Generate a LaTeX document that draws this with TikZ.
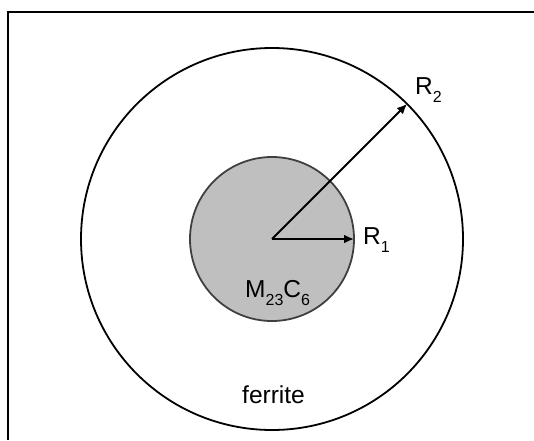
\documentclass[tikz,border=0pt]{standalone}
\usepackage{fontspec}
\setmainfont{Liberation Sans}
\usetikzlibrary{arrows.meta}

\newcommand{\sub}[1]{\raisebox{-8pt}{\fontsize{16}{16}\selectfont #1}}

\tikzset{
  shell/.style={circle,draw,line width=1.8pt,inner sep=0pt,outer sep=0pt},
  lbl/.style={anchor=base west,inner sep=0pt,font=\fontsize{24.5}{28}\selectfont},
}

\begin{document}
\begin{tikzpicture}[x=1pt,y=1pt,>={Latex[length=10pt,width=9pt]}]
  \useasboundingbox (0,0) rectangle (534,440);
  \draw[line width=2pt] (7.5,0) -- (7.5,428) -- (534,428);

  \node[shell,minimum size=382pt] (ferr) at (272,201) {};
  \node[shell,draw=black!75,fill=black!25,minimum size=164pt] (carb) at (272,201) {};

  \draw[->,line width=2pt] (carb.center) -- (carb.east);
  \draw[->,line width=2pt] (carb.center) -- (ferr.north east);

  \node[lbl] (rone) at (363,196) {R\sub{1}};
  \node[lbl] (rtwo) at (415,345) {R\sub{2}};
  \node[lbl] (mc) at (245,143) {M\sub{23}C\sub{6}};
  \node[lbl] (fe) at (242,37) {ferrite};
\end{tikzpicture}
\end{document}
